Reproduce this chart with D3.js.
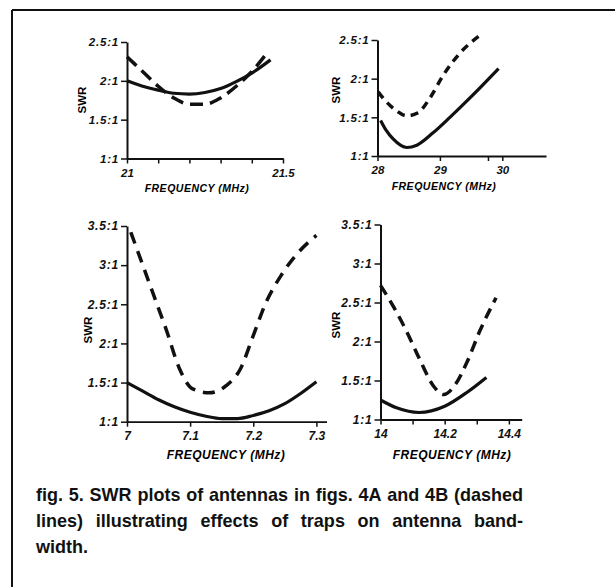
<!DOCTYPE html>
<html>
<head>
<meta charset="utf-8">
<script src="https://cdn.jsdelivr.net/npm/d3@7"></script>
<style>
  body { margin: 0; background: #fff; }
  svg { display: block; font-family: "Liberation Sans", Arial, sans-serif; font-weight: bold; }
  .axis path, .axis line { stroke: #111; }
  .axis text { fill: #111; font-style: italic; }
</style>
</head>
<body>
<svg id="chart" width="615" height="587"></svg>
<script>
// 21 MHz band
var band21Freq = [21.0, 21.05, 21.1, 21.15, 21.2, 21.25, 21.3, 21.35, 21.4, 21.46];
var band21Solid = [2.0, 1.93, 1.88, 1.84, 1.83, 1.85, 1.9, 1.99, 2.1, 2.27];
var band21DashFreq = [21.0, 21.05, 21.1, 21.15, 21.2, 21.25, 21.3, 21.35, 21.4, 21.445];
var band21Dash = [2.31, 2.12, 1.93, 1.78, 1.70, 1.70, 1.78, 1.93, 2.12, 2.34];

// 28 MHz band
var band28Freq = [28.05, 28.14, 28.25, 28.47, 28.63, 28.89, 29.16, 29.53, 29.94];
var band28Solid = [1.46, 1.33, 1.22, 1.11, 1.14, 1.3, 1.5, 1.79, 2.13];
var band28DashFreq = [28.01, 28.12, 28.28, 28.47, 28.65, 28.84, 29.05, 29.32, 29.64];
var band28Dash = [1.83, 1.72, 1.6, 1.52, 1.56, 1.75, 2.04, 2.33, 2.56];

// 7 MHz band
var band7Freq = [7.0, 7.025, 7.05, 7.075, 7.1, 7.125, 7.15, 7.175, 7.2, 7.225, 7.25, 7.275, 7.3];
var band7Solid = [1.5, 1.39, 1.28, 1.19, 1.12, 1.07, 1.04, 1.04, 1.08, 1.14, 1.23, 1.36, 1.51];
var band7DashFreq = [7.006, 7.025, 7.043, 7.062, 7.083, 7.104, 7.13, 7.157, 7.18, 7.2, 7.22, 7.245, 7.27, 7.3];
var band7Dash = [3.42, 3.0, 2.6, 2.18, 1.68, 1.42, 1.37, 1.46, 1.68, 2.1, 2.52, 2.88, 3.15, 3.38];

// 14 MHz band
var band14Freq = [14.0, 14.05, 14.12, 14.2, 14.27, 14.33];
var band14Solid = [1.25, 1.15, 1.09, 1.17, 1.35, 1.54];
var band14DashFreq = [14.0, 14.04, 14.08, 14.12, 14.165, 14.197, 14.23, 14.27, 14.31, 14.36];
var band14Dash = [2.72, 2.45, 2.14, 1.79, 1.43, 1.32, 1.43, 1.74, 2.14, 2.56];

// ticks
var swrTicksSmall = [1, 1.5, 2, 2.5];
var swrTicksLarge = [1, 1.5, 2, 2.5, 3, 3.5];
var band21Ticks = [21, 21.1, 21.2, 21.3, 21.4, 21.5];
var band21Labels = [21, 21.5];
var band28Ticks = [28, 29, 29.77, 30];
var band28Labels = [28, 29, 30];
var band7Ticks = [7, 7.1, 7.2, 7.3];
var band7Labels = [7, 7.1, 7.2, 7.3];
var band14Ticks = [14, 14.1, 14.2, 14.3, 14.4];
var band14Labels = [14, 14.2, 14.4];

var captionLines = [
	"fig. 5. SWR plots of antennas in figs. 4A and 4B (dashed",
	"lines) illustrating effects of traps on antenna band-",
	"width."
];

// layout of each panel (pixels)
var panels = [
	{ xDom: [21, 21.5], xRng: [127, 283], yDom: [1, 2.5], yRng: [158.5, 42],
	  freq: band21Freq, solid: band21Solid, dFreq: band21DashFreq, dash: band21Dash,
	  ticks: band21Ticks, labels: band21Labels, yTicks: swrTicksSmall,
	  tickFont: 11.5, titleFont: 10.5, titleX: 197, titleY: 192, swrX: 86, swrY: 100, dashArr: "13,7" },
	{ xDom: [28, 30.7], xRng: [377.5, 546], yDom: [1, 2.5], yRng: [156, 40],
	  freq: band28Freq, solid: band28Solid, dFreq: band28DashFreq, dash: band28Dash,
	  ticks: band28Ticks, labels: band28Labels, yTicks: swrTicksSmall,
	  tickFont: 11.5, titleFont: 10.5, titleX: 444, titleY: 190, swrX: 340, swrY: 90, dashArr: "8,6" },
	{ xDom: [7, 7.316], xRng: [127, 326.5], yDom: [1, 3.5], yRng: [421.7, 226],
	  freq: band7Freq, solid: band7Solid, dFreq: band7DashFreq, dash: band7Dash,
	  ticks: band7Ticks, labels: band7Labels, yTicks: swrTicksLarge,
	  tickFont: 12, titleFont: 12, titleX: 226, titleY: 459, swrX: 92, swrY: 330, dashArr: "12,8" },
	{ xDom: [14, 14.44], xRng: [380.5, 521.7], yDom: [1, 3.5], yRng: [419.5, 224.5],
	  freq: band14Freq, solid: band14Solid, dFreq: band14DashFreq, dash: band14Dash,
	  ticks: band14Ticks, labels: band14Labels, yTicks: swrTicksLarge,
	  tickFont: 12, titleFont: 12, titleX: 452, titleY: 459, swrX: 340, swrY: 325, dashArr: "11,7" }
];

var svg = d3.select("#chart");

// frame lines
svg.append("line").attr("x1", 12).attr("y1", 10).attr("x2", 615).attr("y2", 10)
	.attr("stroke", "#111").attr("stroke-width", 2);
svg.append("line").attr("x1", 12).attr("y1", 10).attr("x2", 12).attr("y2", 587)
	.attr("stroke", "#111").attr("stroke-width", 2);

function zip(xs, ys) {
	return xs.map(function(x, i) { return [x, ys[i]]; });
}

function swrFormat(d) { return d + ":1"; }

panels.forEach(function(p) {
	var x = d3.scaleLinear().domain(p.xDom).range(p.xRng);
	var y = d3.scaleLinear().domain(p.yDom).range(p.yRng);
	var g = svg.append("g");

	var xAxis = d3.axisBottom(x)
		.tickValues(p.ticks)
		.tickSize(5)
		.tickSizeOuter(0)
		.tickPadding(5)
		.tickFormat(function(d) { return p.labels.indexOf(d) >= 0 ? String(d) : ""; });

	var gx = g.append("g").attr("class", "axis")
		.attr("transform", "translate(0," + p.yRng[0] + ")")
		.call(xAxis);
	gx.select(".domain").attr("stroke-width", 1.8);
	gx.selectAll(".tick line").attr("stroke-width", 1.5);
	gx.selectAll("text").style("font-size", p.tickFont + "px");

	var yAxis = d3.axisLeft(y)
		.tickValues(p.yTicks)
		.tickSize(6)
		.tickSizeOuter(0)
		.tickPadding(2)
		.tickFormat(swrFormat);

	var gy = g.append("g").attr("class", "axis")
		.attr("transform", "translate(" + p.xRng[0] + ",0)")
		.call(yAxis);
	gy.select(".domain").attr("stroke-width", 2);
	gy.selectAll(".tick line").attr("stroke-width", 1.5);
	gy.selectAll("text").style("font-size", p.tickFont + "px").style("letter-spacing", "0.8px");

	// axis titles
	g.append("text")
		.attr("x", p.titleX).attr("y", p.titleY)
		.attr("text-anchor", "middle")
		.style("font-size", p.titleFont + "px")
		.style("font-style", "italic")
		.style("letter-spacing", "0.5px")
		.text("FREQUENCY (MHz)");

	g.append("text")
		.attr("transform", "translate(" + p.swrX + "," + p.swrY + ") rotate(-90)")
		.attr("text-anchor", "middle")
		.style("font-size", "11.5px")
		.text("SWR");

	var line = d3.line()
		.x(function(d) { return x(d[0]); })
		.y(function(d) { return y(d[1]); })
		.curve(d3.curveMonotoneX);

	g.append("path")
		.attr("d", line(zip(p.freq, p.solid)))
		.attr("fill", "none")
		.attr("stroke", "#111")
		.attr("stroke-width", 3.2);

	g.append("path")
		.attr("d", line(zip(p.dFreq, p.dash)))
		.attr("fill", "none")
		.attr("stroke", "#111")
		.attr("stroke-width", 3.5)
		.attr("stroke-dasharray", p.dashArr);
});

// caption, justified like the printed page
var capLeft = 36, capRight = 523, capTop = 501, capStep = 25.8;
var cap = svg.append("g").attr("fill", "#111");

// size the font so the first line fits the measure with normal spacing
var probe = cap.append("text").style("font-size", "16px").text(captionLines[0]);
var capSize = 16 * 478 / probe.node().getComputedTextLength();
probe.remove();
cap.style("font-size", capSize + "px");

captionLines.forEach(function(txt, li) {
	var words = txt.split(" ");
	var yy = capTop + li * capStep;
	var nodes = words.map(function(w) {
		return cap.append("text").attr("y", yy).text(w);
	});
	var widths = nodes.map(function(n) { return n.node().getComputedTextLength(); });
	var total = d3.sum(widths);
	var last = li === captionLines.length - 1;
	var gap = last ? capSize * 0.28 : (capRight - capLeft - total) / (words.length - 1);
	var cx = capLeft;
	nodes.forEach(function(n, i) {
		n.attr("x", cx);
		cx += widths[i] + gap;
	});
});
</script>
</body>
</html>
